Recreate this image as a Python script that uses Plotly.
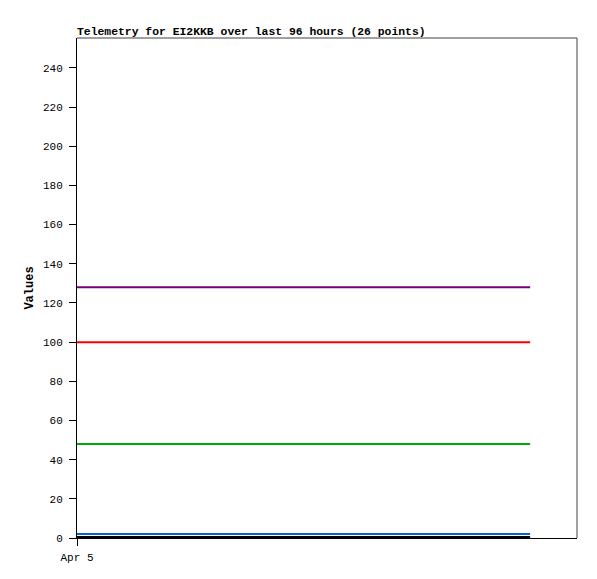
import plotly.graph_objects as go

times = ['2024-04-05 00:00', '2024-04-05 03:30', '2024-04-05 07:00', '2024-04-05 10:30',
         '2024-04-05 14:00', '2024-04-05 17:30', '2024-04-05 21:00', '2024-04-06 00:30',
         '2024-04-06 04:00', '2024-04-06 07:30', '2024-04-06 11:00', '2024-04-06 14:30',
         '2024-04-06 18:00', '2024-04-06 21:30', '2024-04-07 01:00', '2024-04-07 04:30',
         '2024-04-07 08:00', '2024-04-07 11:30', '2024-04-07 15:00', '2024-04-07 18:30',
         '2024-04-07 22:00', '2024-04-08 01:30', '2024-04-08 05:00', '2024-04-08 08:30',
         '2024-04-08 12:00', '2024-04-08 15:00']

purple_vals = [128] * 26
red_vals = [100] * 26
green_vals = [48] * 26
blue_vals = [2] * 26
black_vals = [0.5] * 26

series = [
    ('ch5', purple_vals, '#770077'),
    ('ch4', red_vals, '#ff0000'),
    ('ch3', green_vals, '#00aa00'),
    ('ch2', blue_vals, '#0066cc'),
    ('ch1', black_vals, '#000000'),
]

font = 'Liberation Mono, DejaVu Sans Mono, monospace'

fig = go.Figure()
for name, vals, color in series:
    fig.add_trace(go.Scatter(x=times, y=vals, name=name, mode='lines',
                             line=dict(color=color, width=2)))

fig.update_layout(
    width=589, height=571,
    margin=dict(l=69, r=20, t=30, b=41),
    paper_bgcolor='white', plot_bgcolor='white',
    showlegend=False,
    font=dict(family=font, size=11, color='black'),
    title=dict(text='<b>Telemetry for EI2KKB over last 96 hours (26 points)</b>',
               x=69 / 589, xanchor='left', y=1 - 23 / 571, yanchor='middle',
               font=dict(family=font, size=11.4)),
)
fig.update_xaxes(
    range=['2024-04-05 00:00', '2024-04-09 00:00'],
    tickvals=['2024-04-05 00:00'], ticktext=['Apr 5'],
    showgrid=False, zeroline=False,
    showline=True, linecolor='black', linewidth=1, mirror=False,
    ticks='outside', ticklen=7, tickcolor='black', ticklabelstandoff=2,
)
fig.update_yaxes(
    range=[0, 255.3], dtick=20, tick0=0,
    title=dict(text='<b>Values</b>', standoff=6, font=dict(size=12)),
    showgrid=False, zeroline=False,
    showline=True, linecolor='black', linewidth=1,
    ticks='outside', ticklen=7, tickcolor='black', ticklabelstandoff=4,
)
# darker grey top/right frame
fig.add_shape(type='line', xref='paper', yref='paper', x0=0, x1=1, y0=1, y1=1,
              line=dict(color='#404040', width=1))
fig.add_shape(type='line', xref='paper', yref='paper', x0=1, x1=1, y0=0, y1=1,
              line=dict(color='#404040', width=1))

fig.write_html('out.html')
